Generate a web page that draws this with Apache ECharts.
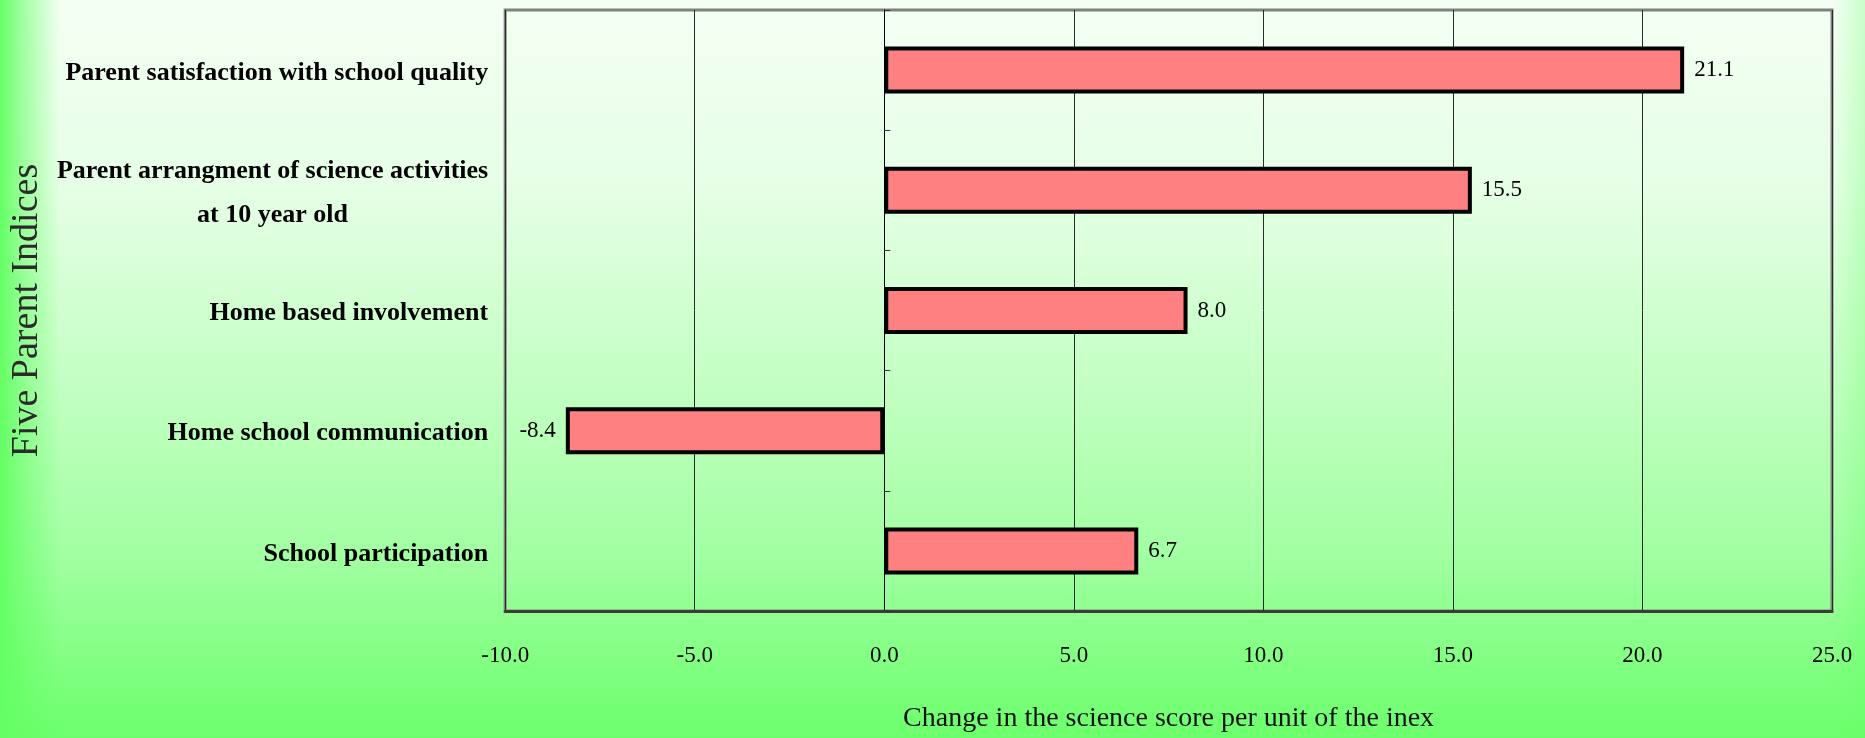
<!DOCTYPE html>
<html>
<head>
<meta charset="utf-8">
<title>Five Parent Indices</title>
<script src="https://cdn.jsdelivr.net/npm/echarts@6/dist/echarts.min.js"></script>
<style>
  html, body { margin: 0; padding: 0; }
  #chart { width: 1865px; height: 738px; }
</style>
</head>
<body>
<div id="chart"></div>
<script>
// Categories listed bottom to top (category axis order)
const categories = [
  'School participation',
  'Home school communication',
  'Home based involvement',
  'Parent arrangment of science activities\nat 10 year old',
  'Parent satisfaction with school quality'
];
// Change in science score per unit of each index
const scoreChange = [6.7, -8.4, 8.0, 15.5, 21.1];
// Value axis range and tick step
const axisMin = -10;
const axisMax = 25;
const axisStep = 5;

const SERIF = '"Liberation Serif", "Times New Roman", serif';

const chart = echarts.init(document.getElementById('chart'), null, { renderer: 'canvas' });

const barData = scoreChange.map(v => ({
  value: v,
  label: { position: v < 0 ? 'left' : 'right' }
}));

const option = {
  animation: false,
  graphic: [
    // page background: pale at the top, saturated green at the bottom
    {
      type: 'rect', z: -100, silent: true,
      shape: { x: 0, y: 0, width: 1865, height: 738 },
      style: {
        fill: new echarts.graphic.LinearGradient(0, 0, 0, 1, [
          { offset: 0, color: '#f4fff4' },
          { offset: 0.25, color: '#e6ffe6' },
          { offset: 0.5, color: '#c6ffc6' },
          { offset: 0.75, color: '#a2ffa2' },
          { offset: 1, color: '#6cff6c' }
        ])
      }
    },
    // green fade along the left edge
    {
      type: 'rect', z: -99, silent: true,
      shape: { x: 0, y: 0, width: 60, height: 738 },
      style: {
        fill: new echarts.graphic.LinearGradient(0, 0, 1, 0, [
          { offset: 0, color: 'rgba(100,255,100,1)' },
          { offset: 0.35, color: 'rgba(100,255,100,0.6)' },
          { offset: 1, color: 'rgba(100,255,100,0)' }
        ])
      }
    },
    // green fade along the right edge
    {
      type: 'rect', z: -99, silent: true,
      shape: { x: 1833, y: 0, width: 32, height: 738 },
      style: {
        fill: new echarts.graphic.LinearGradient(0, 0, 1, 0, [
          { offset: 0, color: 'rgba(100,255,100,0)' },
          { offset: 1, color: 'rgba(100,255,100,0.3)' }
        ])
      }
    }
  ],
  grid: {
    left: 505,
    right: 33,
    top: 10,
    bottom: 127,
    show: true,
    backgroundColor: 'transparent',
    borderColor: '#808080',
    borderWidth: 3
  },
  xAxis: {
    type: 'value',
    min: axisMin,
    max: axisMax,
    interval: axisStep,
    name: 'Change in the science score per unit of the inex',
    nameLocation: 'middle',
    nameGap: 94,
    nameTextStyle: { fontFamily: SERIF, fontSize: 28, color: '#111' },
    axisLine: { show: true, onZero: false, lineStyle: { color: '#3c3c3c', width: 3 } },
    axisTick: { show: false },
    axisLabel: {
      margin: 33,
      fontFamily: SERIF,
      fontSize: 23,
      color: '#000',
      formatter: v => v.toFixed(1)
    },
    splitLine: { show: true, lineStyle: { color: '#2a2a2a', width: 1 } }
  },
  yAxis: [
    {
      // category labels on the left
      type: 'category',
      data: categories,
      position: 'left',
      name: 'Five Parent Indices',
      nameLocation: 'middle',
      nameGap: 458,
      nameRotate: 90,
      nameTextStyle: { fontFamily: SERIF, fontSize: 38, color: '#2a2a2a' },
      axisLine: { show: false, onZero: false },
      axisTick: { show: false },
      splitLine: { show: false },
      axisLabel: {
        margin: 17,
        padding: [6, 0, 0, 0],
        formatter: v => v.split('\n').map(s => '{c|' + s + '}').join('\n'),
        rich: {
          c: {
            align: 'center',
            fontFamily: SERIF,
            fontWeight: 'bold',
            fontSize: 26,
            lineHeight: 44,
            color: '#000'
          }
        }
      }
    },
    {
      // zero line with inward ticks between categories
      type: 'category',
      data: categories,
      position: 'left',
      axisLine: { show: true, onZero: true, lineStyle: { color: '#000', width: 1 } },
      axisTick: { show: true, inside: true, length: 6, lineStyle: { color: '#333' } },
      axisLabel: { show: false },
      splitLine: { show: false }
    }
  ],
  series: [
    {
      type: 'bar',
      yAxisIndex: 0,
      data: barData,
      barWidth: 47,
      itemStyle: {
        color: '#ff8080',
        borderColor: '#000',
        borderWidth: 4
      },
      label: {
        show: true,
        distance: 10,
        fontFamily: SERIF,
        fontSize: 23,
        color: '#000',
        formatter: p => p.value.toFixed(1)
      },
      z: 3
    }
  ]
};

chart.setOption(option);
</script>
</body>
</html>
